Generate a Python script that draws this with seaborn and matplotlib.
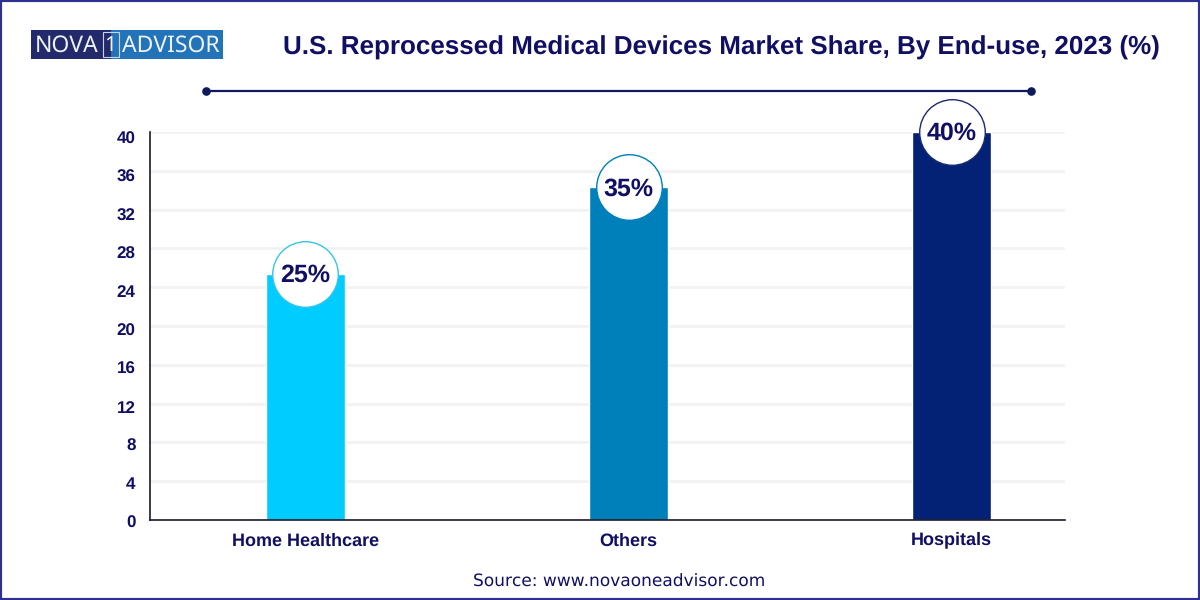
import matplotlib
matplotlib.use('Agg')
import matplotlib.pyplot as plt
from matplotlib.patches import Rectangle
from matplotlib.lines import Line2D
from matplotlib.transforms import ScaledTranslation
import seaborn as sns
import pandas as pd

categories = ['Home Healthcare', 'Others', 'Hospitals']
bar_values = [25.4, 34.3, 40]
labels = ['25%', '35%', '40%']
bar_colors = ['#00ccff', '#0080bb', '#042275']
ring_colors = ['#35c4ec', '#0080bb', '#1a2a70']
y_ticks = [0, 4, 8, 12, 16, 20, 24, 28, 32, 36, 40]

navy = '#100f63'
title = 'U.S. Reprocessed Medical Devices Market Share, By End-use, 2023 (%)'
source = 'Source: www.novaoneadvisor.com'

sns.set_theme(style='white')
plt.rcParams['font.family'] = ['Liberation Sans', 'DejaVu Sans']
plt.rcParams['text.hinting'] = 'none'
plt.rcParams['text.hinting_factor'] = 1

df = pd.DataFrame({'cat': categories, 'value': bar_values})

fig = plt.figure(figsize=(12, 6), dpi=100)
ax = fig.add_axes([150/1200, 1-520/600, 915/1200, 388/600])

sns.barplot(data=df, x='cat', y='value', hue='cat', palette=bar_colors,
            width=0.247, legend=False, ax=ax, saturation=1, zorder=2)

ax.set_xlim(-0.481, 2.351)
ax.set_ylim(0, 40)
ax.set_xlabel('')
ax.set_ylabel('')
ax.set_yticks(y_ticks)
ax.yaxis.grid(True, color='#f2f2f2', lw=2)
ax.set_axisbelow(True)
ax.tick_params(axis='y', length=0, pad=10.5, labelsize=12.5, labelcolor=navy)
ax.tick_params(axis='x', length=0, pad=18.6, labelsize=12.7, labelcolor=navy)
for t in ax.get_xticklabels():
    t.set_fontweight('bold')
    t.set_va('baseline')
    # agg drops the label with a descender a bit lower, pull it back
    if t.get_text() == 'Hospitals':
        t.set_transform(t.get_transform() + ScaledTranslation(0, 0.02, fig.dpi_scale_trans))

# the y labels sit a little off the gridlines in the original, more so at the top
for i, t in enumerate(ax.get_yticklabels()):
    t.set_fontweight('bold')
    off = (1.5 + i * 0.42) / 100
    t.set_transform(t.get_transform() + ScaledTranslation(0, -off, fig.dpi_scale_trans))

for side in ['top', 'right']:
    ax.spines[side].set_visible(False)
for side in ['left', 'bottom']:
    ax.spines[side].set_color('#1a1a2a')
    ax.spines[side].set_linewidth(1.2)

# circles sitting on the bar tops
for i, v in enumerate(bar_values):
    ax.scatter([i], [v], s=2230, facecolor='white', edgecolor=ring_colors[i],
               linewidth=1, zorder=4, clip_on=False)
    ax.annotate(labels[i], (i, v), xytext=(0, -1.2), textcoords='offset points',
                ha='center', va='center', fontsize=18.2, fontweight='bold',
                color=navy, zorder=5)

# header
fig.text(721/1200, 1-48/600, title, ha='center', va='center', fontsize=18.7,
         fontweight='bold', color=navy)
fig.add_artist(Line2D([206/1200, 1031/1200], [1-90.5/600, 1-90.5/600], color='#0e1a5e',
                      lw=1.6, marker='o', ms=5.2, transform=fig.transFigure))

# logo
fig.add_artist(Rectangle((31/1200, 1-59/600), 80/1200, 29/600, color='#222a6b',
                         lw=0, transform=fig.transFigure))
fig.add_artist(Rectangle((111/1200, 1-59/600), 112/1200, 29/600, color='#2373b8',
                         lw=0, transform=fig.transFigure))
fig.add_artist(Rectangle((102.5/1200, 1-57/600), 16/1200, 25/600, fill=False,
                         ec='#c8d4ea', lw=0.8, transform=fig.transFigure))
fig.text(35/1200, 1-45.5/600, 'NOVA', ha='left', va='center', fontsize=16.5,
         color='#eef2fa', family='Noto Sans')
fig.text(110.5/1200, 1-45.5/600, '1', ha='center', va='center', fontsize=15,
         color='#eef2fa', family='Noto Sans')
fig.text(122/1200, 1-45.5/600, 'ADVISOR', ha='left', va='center', fontsize=16.5,
         color='#eef2fa', family='Noto Sans')

# source
fig.text(619/1200, 1-582.5/600, source, ha='center', va='center', fontsize=12,
         color=navy, family='DejaVu Sans')

# page frame
fig.add_artist(Rectangle((0, 0), 1, 1, fill=False, ec='#2e3192', lw=3,
                         transform=fig.transFigure))

fig.savefig('out.png', dpi=100)
